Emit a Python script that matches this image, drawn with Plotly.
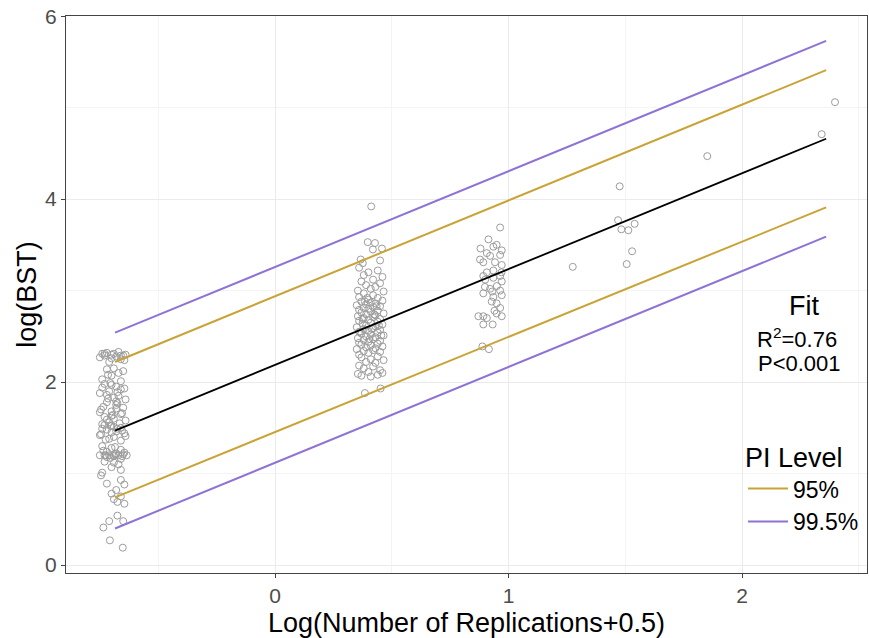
import plotly.graph_objects as go

# ---------------- data ----------------
# cluster at log(0+0.5)
a_x = [-0.74,-0.70,-0.66,-0.72,-0.68,-0.64,-0.75,-0.69,-0.66,-0.71,-0.73,-0.67,-0.645,-0.70,
       -0.72,-0.67,-0.70,-0.65,-0.74,-0.69,-0.66,-0.715,
       -0.73,-0.68,-0.645,-0.71,-0.75,-0.67,-0.70,-0.66,-0.72,-0.69,-0.64,-0.74,-0.675,-0.705,
       -0.72,-0.68,-0.65,-0.745,-0.70,-0.66,-0.73,-0.69,-0.64,-0.71,-0.675,-0.735,-0.655,-0.70,-0.72,-0.68,-0.75,
       -0.74,-0.70,-0.66,-0.72,-0.68,-0.645,-0.75,-0.69,-0.71,-0.66,-0.73,-0.675,-0.70,-0.64,-0.725,-0.69,-0.655,-0.745,
       -0.74,-0.70,-0.66,-0.72,-0.68,-0.75,-0.73,-0.71,-0.69,-0.67,-0.65,-0.635,-0.705,-0.66,-0.735,-0.685,-0.645,-0.72,
       -0.73,-0.67,-0.70,-0.66,-0.74,-0.69,
       -0.745,-0.66,-0.72,-0.645,
       -0.68,-0.70,-0.66,-0.69,-0.675,-0.645,
       -0.735,-0.71,-0.675,-0.65,-0.707,-0.652,
       -0.725,-0.685,-0.655,-0.705,-0.74,-0.665,-0.715,-0.68,-0.695,-0.65,-0.73,-0.69]
a_y = [2.31,2.30,2.29,2.32,2.28,2.30,2.27,2.31,2.25,2.22,2.29,2.33,2.24,2.26,
       2.14,2.10,2.07,2.12,2.03,2.15,2.01,2.08,
       1.98,1.95,1.93,1.90,1.88,1.85,1.97,1.92,1.86,1.83,1.81,1.94,1.89,1.99,
       1.78,1.75,1.72,1.70,1.68,1.65,1.62,1.60,1.58,1.56,1.77,1.73,1.66,1.63,1.59,1.71,1.67,
       1.54,1.52,1.50,1.48,1.46,1.44,1.42,1.40,1.38,1.36,1.53,1.49,1.45,1.41,1.37,1.51,1.47,1.43,
       1.30,1.28,1.26,1.24,1.22,1.20,1.20,1.20,1.19,1.20,1.21,1.20,1.17,1.16,1.25,1.29,1.23,1.18,
       1.13,1.10,1.07,1.04,1.01,1.12,
       0.98,0.93,0.89,0.88,
       0.82,0.78,0.75,0.72,0.69,0.67,
       0.41,0.48,0.54,0.48,0.27,0.19,
       1.20,1.21,1.19,1.52,1.49,1.55,1.82,1.79,1.64,2.29,2.31,1.20]

# cluster at log(1+0.5)
b_x = [0.412,0.397,0.428,0.458,0.419,0.450,0.367,0.376,0.385,0.452,
       0.36,0.44,0.40,0.38,0.46,0.42,0.37,0.45,0.39,0.43,0.41,0.355,0.465,
       0.38,0.42,0.36,0.44,0.40,0.46,0.37,0.41,0.43,0.39,0.35,0.45,0.42,0.38,0.40,
       0.36,0.44,0.41,0.37,0.465,0.39,0.43,0.355,0.42,0.38,0.45,0.40,0.36,0.44,0.41,0.375,0.46,0.39,0.43,0.35,
       0.42,0.38,0.45,0.40,0.36,0.44,0.37,0.41,0.465,0.39,0.43,0.355,0.42,0.38,0.45,0.40,0.36,0.44,0.37,0.41,
       0.46,0.39,0.43,0.35,0.42,0.38,0.45,0.40,0.36,0.44,0.37,0.41,0.465,0.39,0.43,
       0.36,0.42,0.38,0.45,0.40,0.355,0.44,0.37,0.41,0.46,
       0.385,0.425,0.445,0.365,0.405,0.435,0.375,0.415,0.395,0.455]
b_y = [3.92,3.53,3.52,3.46,3.45,3.33,3.34,3.30,1.88,1.93,
       3.25,3.22,3.20,3.17,3.15,3.12,3.10,3.08,3.06,3.04,3.02,3.00,2.99,
       2.97,2.95,2.93,2.92,2.90,2.89,2.88,2.87,2.86,2.85,2.84,2.83,2.82,2.81,2.80,
       2.79,2.78,2.77,2.76,2.75,2.74,2.73,2.72,2.71,2.70,2.69,2.68,2.67,2.66,2.65,2.64,2.63,2.62,2.61,2.60,
       2.59,2.58,2.57,2.56,2.55,2.54,2.53,2.52,2.51,2.50,2.49,2.48,2.47,2.46,2.45,2.44,2.43,2.42,2.41,2.40,
       2.39,2.38,2.37,2.36,2.35,2.34,2.33,2.32,2.30,2.28,2.27,2.25,2.24,2.22,2.21,
       2.18,2.17,2.15,2.13,2.11,2.09,2.08,2.07,2.06,2.10,
       2.88,2.74,2.62,2.55,2.47,2.83,2.69,2.58,2.92,2.51]

# cluster at log(2+0.5)
c_x = [0.964,0.914,0.949,0.935,0.971,0.964,0.907,0.921,0.878,0.892,0.942,0.971,0.935,0.907,
       0.892,0.964,0.935,0.971,0.899,0.921,0.964,0.892,0.971,0.935,0.949,0.928,0.964,
       0.871,0.892,0.907,0.971,0.949,0.892,0.932,0.888,0.916,
       0.95,0.90,0.93,0.97,0.88,0.94]
c_y = [3.69,3.56,3.50,3.48,3.44,3.39,3.41,3.38,3.34,3.31,3.31,3.28,3.22,3.20,
       3.16,3.16,3.14,3.10,3.04,3.02,3.00,2.97,2.95,2.93,2.86,2.88,2.81,
       2.72,2.72,2.70,2.72,2.75,2.63,2.63,2.39,2.36,
       3.05,3.12,2.99,3.20,3.46,2.78]

# sparse higher replications
d_x = [1.275,1.476,1.469,1.483,1.513,1.540,1.529,1.506,1.851,2.341,2.398]
d_y = [3.26,4.14,3.77,3.67,3.66,3.73,3.43,3.29,4.47,4.71,5.06]

# fitted line and prediction intervals (end points)
line_x = [-0.685, 2.36]
fit_y = [1.47, 4.66]
pi95_upper = [2.22, 5.41]
pi95_lower = [0.74, 3.91]
pi995_upper = [2.54, 5.73]
pi995_lower = [0.40, 3.59]

x_ticks = [0, 1, 2]
y_ticks = [0, 2, 4, 6]

FONT = "Liberation Sans, Arial, sans-serif"
GOLD = "#C9A336"
PURPLE = "#8E73D4"

pts_x = a_x + b_x + c_x + d_x
pts_y = a_y + b_y + c_y + d_y

fig = go.Figure()
fig.add_trace(go.Scatter(
    x=pts_x, y=pts_y, mode="markers", showlegend=False,
    marker=dict(symbol="circle-open", size=7, color="#9C9C9C", line=dict(width=1)),
))
fig.add_trace(go.Scatter(x=line_x, y=pi995_upper, mode="lines", name="99.5%",
                         line=dict(color=PURPLE, width=2), showlegend=False, legendgroup="p"))
fig.add_trace(go.Scatter(x=line_x, y=pi95_upper, mode="lines", name="95%",
                         line=dict(color=GOLD, width=2), showlegend=False, legendgroup="g"))
fig.add_trace(go.Scatter(x=line_x, y=fit_y, mode="lines", showlegend=False,
                         line=dict(color="black", width=1.8)))
fig.add_trace(go.Scatter(x=line_x, y=pi95_lower, mode="lines", name="95%",
                         line=dict(color=GOLD, width=2), legendgroup="g", legendrank=1))
fig.add_trace(go.Scatter(x=line_x, y=pi995_lower, mode="lines", name="99.5%",
                         line=dict(color=PURPLE, width=2), legendgroup="p", legendrank=2))

axis_common = dict(
    showline=True, linecolor="#444444", linewidth=1.3, mirror=True,
    ticks="outside", ticklen=4, tickcolor="#444444", tickwidth=1,
    tickfont=dict(family=FONT, size=21, color="#4D4D4D"),
    showgrid=True, gridcolor="#EBEBEB", gridwidth=1,
    zeroline=False,
)

fig.update_layout(
    width=869, height=638,
    margin=dict(l=66, r=2, t=16, b=65),
    paper_bgcolor="white", plot_bgcolor="white",
    font=dict(family=FONT),
    xaxis=dict(range=[-0.895, 2.535], tickvals=x_ticks,
               minor=dict(showgrid=True, gridcolor="#F4F4F4", dtick=0.5, tick0=0.5, ticks=""),
               title=dict(text="Log(Number of Replications+0.5)",
                          font=dict(family=FONT, size=27, color="black"), standoff=6),
               **axis_common),
    yaxis=dict(range=[-0.087, 6.002], tickvals=y_ticks,
               minor=dict(showgrid=True, gridcolor="#F4F4F4", dtick=1, tick0=1, ticks=""),
               title=dict(text="log(BST)", font=dict(family=FONT, size=27, color="black"), standoff=0),
               **axis_common),
    legend=dict(
        x=(743 - 66) / 801, xanchor="left", y=(573 - 432) / 557, yanchor="top",
        bgcolor="rgba(0,0,0,0)", itemwidth=40,
        title=dict(text="PI Level", font=dict(family=FONT, size=27, color="black")),
        font=dict(family=FONT, size=23, color="black"),
        traceorder="normal",
    ),
    shapes=[dict(type="rect", xref="paper", yref="paper",
                 x0=(728 - 66) / 801, x1=(866 - 66) / 801,
                 y0=(573 - 564) / 557, y1=(573 - 282) / 557,
                 fillcolor="white", line=dict(width=0), layer="between")],
    annotations=[
        dict(text="Fit", xref="paper", yref="paper", x=(804 - 66) / 801, y=(573 - 306) / 557,
             showarrow=False, font=dict(family=FONT, size=27, color="black"), xanchor="center", yanchor="middle"),
        dict(text="R<sup>2</sup>=0.76", xref="paper", yref="paper", x=(797 - 66) / 801, y=(573 - 338) / 557,
             showarrow=False, font=dict(family=FONT, size=22, color="black"), xanchor="center", yanchor="middle"),
        dict(text="P<0.001", xref="paper", yref="paper", x=(799 - 66) / 801, y=(573 - 364) / 557,
             showarrow=False, font=dict(family=FONT, size=22, color="black"), xanchor="center", yanchor="middle"),
    ],
)

fig.write_html("out.html")
